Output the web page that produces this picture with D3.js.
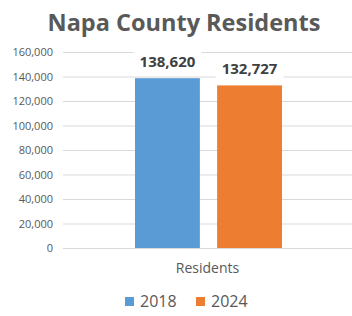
<!DOCTYPE html>
<meta charset="utf-8" />
<style>
  body { margin: 0; background: #fff; }
  text { font-family: "Open Sans", "Liberation Sans", sans-serif; fill: #595959; }
</style>
<body>
  <script src="https://d3js.org/d3.v7.min.js"></script>
  <script>
    var categories = ["Residents"];
    var years = ["2018", "2024"];
    var values = [138620, 132727];
    var colors = ["#5b9bd5", "#ed7d31"];
    var ticks = [0, 20000, 40000, 60000, 80000, 100000, 120000, 140000, 160000];

    var width = 352, height = 316;
    var margin = { top: 52, right: 0, bottom: 68, left: 63 };

    var svg = d3.select("body").append("svg")
      .attr("width", width).attr("height", height);

    svg.append("text")
      .attr("x", 184).attr("y", 31)
      .attr("text-anchor", "middle")
      .style("font-weight", "bold").style("font-size", "23.5px")
      .text("Napa County Residents");

    var y = d3.scaleLinear().domain([0, 160000])
      .range([height - margin.bottom, margin.top]);
    var x0 = d3.scaleBand().domain(categories)
      .range([margin.left, width - margin.right]);
    var x1 = d3.scaleBand().domain(years)
      .range([72, 219]).paddingInner(0.21);

    // gridlines
    svg.append("g").selectAll("line").data(ticks.slice(1)).enter()
      .append("line")
      .attr("x1", margin.left).attr("x2", width)
      .attr("y1", d => y(d) + 0.5).attr("y2", d => y(d) + 0.5)
      .style("stroke", "#d9d9d9");

    // y axis labels
    var fmt = d3.format(",");
    svg.append("g").selectAll("text").data(ticks).enter()
      .append("text")
      .attr("x", 53).attr("y", d => y(d) + 4)
      .attr("text-anchor", "end")
      .style("font-size", "11px")
      .text(d => fmt(d));

    var g = svg.append("g")
      .attr("transform", "translate(" + x0(categories[0]) + ",0)");

    g.selectAll("rect.bar").data(values).enter()
      .append("rect").attr("class", "bar")
      .attr("x", (d, i) => x1(years[i]))
      .attr("width", x1.bandwidth())
      .attr("y", d => y(d))
      .attr("height", d => y(0) - y(d))
      .style("fill", (d, i) => colors[i]);

    // data labels with white box
    var lab = g.selectAll("g.lab").data(values).enter()
      .append("g").attr("class", "lab")
      .attr("transform", (d, i) =>
        "translate(" + (x1(years[i]) + x1.bandwidth() / 2) + "," + (y(d) - 16) + ")");
    lab.append("rect")
      .attr("x", -34).attr("y", -12).attr("width", 68).attr("height", 24)
      .style("fill", "#fff");
    lab.append("text")
      .attr("text-anchor", "middle").attr("y", 5)
      .style("font-weight", "bold").style("font-size", "15px")
      .style("fill", "#404040")
      .text(d => fmt(d));

    // x axis line
    svg.append("line")
      .attr("x1", margin.left).attr("x2", width)
      .attr("y1", y(0) + 0.5).attr("y2", y(0) + 0.5)
      .style("stroke", "#d9d9d9");

    svg.append("text")
      .attr("x", x0(categories[0]) + x0.bandwidth() / 2)
      .attr("y", 273)
      .attr("text-anchor", "middle")
      .style("font-size", "14px")
      .text(categories[0]);

    // legend
    var leg = svg.append("g").selectAll("g").data(years).enter()
      .append("g")
      .attr("transform", (d, i) => "translate(" + (125 + i * 71) + ",297)");
    leg.append("rect")
      .attr("width", 9).attr("height", 9)
      .style("fill", (d, i) => colors[i]);
    leg.append("text")
      .attr("x", 15).attr("y", 10)
      .style("font-size", "16px")
      .text(d => d);
  </script>
</body>
